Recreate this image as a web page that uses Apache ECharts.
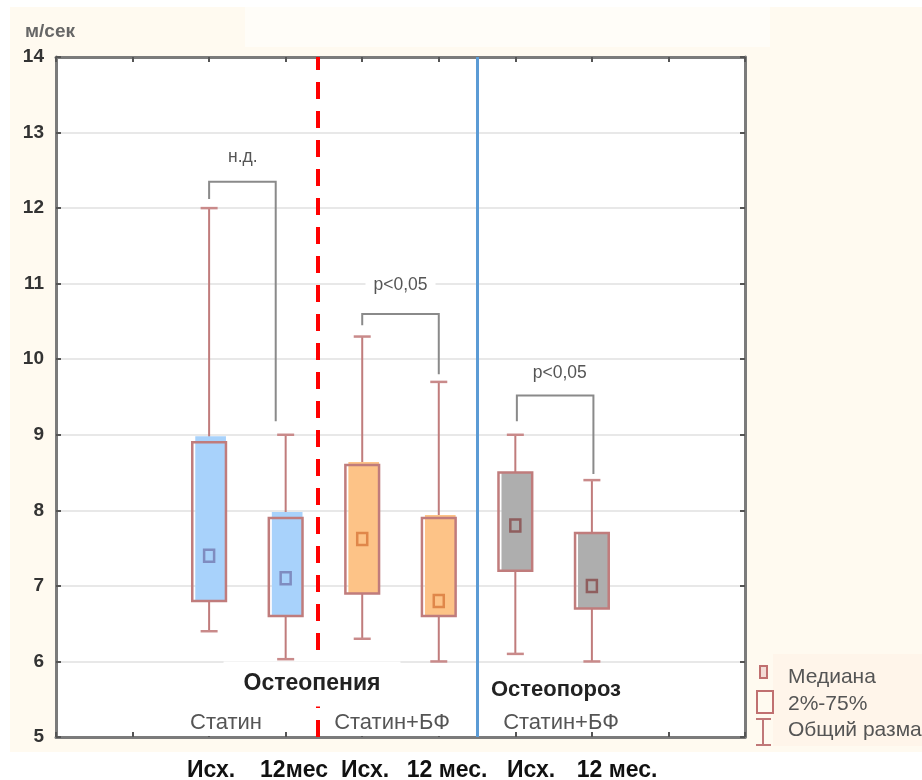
<!DOCTYPE html>
<html><head><meta charset="utf-8">
<script src="https://cdn.jsdelivr.net/npm/echarts@6/dist/echarts.min.js"></script>
<style>
html,body{margin:0;padding:0;background:#fff;}
#wrap{position:relative;width:922px;height:780px;overflow:hidden;}
.bg{position:absolute;}
#c{position:absolute;left:0;top:0;width:922px;height:780px;}
</style>
</head><body>
<div id="wrap">
  <div class="bg" style="left:10px;top:7px;width:912px;height:745px;background:#fffaf0;"></div>
  <div class="bg" style="left:245px;top:7px;width:525px;height:40px;background:#fffdf8;"></div>
  <div class="bg" style="left:773px;top:654px;width:149px;height:92px;background:#fff5ea;"></div>
  <div id="c"></div>
</div>
<script>
// ---- data ----
const timeLabels = ['Исх.', '12мес', 'Исх.', '12 мес.', 'Исх.', '12 мес.'];
const positions  = [2, 3, 4, 5, 6, 7];
const mins    = [6.4, 6.03, 6.3, 6.0, 6.1, 6.0];
const q1s     = [6.8, 6.6, 6.9, 6.6, 7.2, 6.7];
const medians = [7.4, 7.1, 7.62, 6.8, 7.8, 7.0];
const q3s     = [8.9, 7.9, 8.6, 7.9, 8.5, 7.7];
const maxs    = [12.0, 9.0, 10.3, 9.7, 9.0, 8.4];
const groupOf = [0, 0, 1, 1, 2, 2];
const groupNames = ['Статин (остеопения)', 'Статин+БФ (остеопения)', 'Статин+БФ (остеопороз)'];
const treatmentLabels = ['Статин', 'Статин+БФ', 'Статин+БФ'];
const diagnosisLabels = ['Остеопения', 'Остеопороз'];
const separators = [3.42, 5.5];
// brackets: [xLeft, xRight, yTop, yLeftEnd, yRightEnd, labelX, labelY]
const bracketGeo = [
  [2.0, 2.87, 12.35, 12.12, 9.18, 2.44, 12.67],
  [4.0, 5.0, 10.6, 10.45, 9.8, 4.5, 10.98],
  [6.02, 7.02, 9.52, 9.18, 8.48, 6.58, 9.81]
];
const bracketLabels = ['н.д.', 'p<0,05', 'p<0,05'];
const yMin = 5, yMax = 14;
const legendLabels = ['Медиана', '2%-75%', 'Общий размах'];

// ---- styles ----
const fills = ['#a8d2fb', '#fdc387', '#aeaeae'];
const medColors = ['#7f8cc0', '#e0874a', '#8f5e5e'];
const boxStroke = '#c07c7c';
const FONT = '"Liberation Sans", Arial, sans-serif';

function boxRender(k) {
  return function (params, api) {
    const x = api.value(0);
    const pMin = api.coord([x, api.value(1)]);
    const pQ1 = api.coord([x, api.value(2)]);
    const pMed = api.coord([x, api.value(3)]);
    const pQ3 = api.coord([x, api.value(4)]);
    const pMax = api.coord([x, api.value(5)]);
    const bw = api.size([1, 0])[0] * 0.44;
    const cw = 17;
    const cx = pMin[0];
    const ext = k === 0 ? 6 : (k === 1 ? 3 : 0);
    return {
      type: 'group',
      children: [
        { type: 'line', shape: { x1: cx, y1: pMax[1], x2: cx, y2: pQ3[1] }, style: { stroke: boxStroke, lineWidth: 2 } },
        { type: 'line', shape: { x1: cx, y1: pQ1[1], x2: cx, y2: pMin[1] }, style: { stroke: boxStroke, lineWidth: 2 } },
        { type: 'line', shape: { x1: cx - cw / 2, y1: pMax[1], x2: cx + cw / 2, y2: pMax[1] }, style: { stroke: '#c98a8a', lineWidth: 2.5 } },
        { type: 'line', shape: { x1: cx - cw / 2, y1: pMin[1], x2: cx + cw / 2, y2: pMin[1] }, style: { stroke: '#c98a8a', lineWidth: 2.5 } },
        { type: 'rect', shape: { x: cx - bw / 2 + 3, y: pQ3[1] - ext, width: bw - 3, height: pQ1[1] - pQ3[1] + ext }, style: { fill: fills[k] } },
        { type: 'rect', shape: { x: cx - bw / 2, y: pQ3[1], width: bw, height: pQ1[1] - pQ3[1] }, style: { fill: 'none', stroke: boxStroke, lineWidth: 2.5 } },
        { type: 'rect', shape: { x: cx - 5, y: pMed[1] - 6, width: 10, height: 12 }, style: { fill: 'none', stroke: medColors[k], lineWidth: 2.5 } }
      ]
    };
  };
}

const boxSeries = [0, 1, 2].map(function (k) {
  const data = [];
  positions.forEach(function (p, i) {
    if (groupOf[i] === k) data.push([p, mins[i], q1s[i], medians[i], q3s[i], maxs[i]]);
  });
  return {
    name: groupNames[k],
    type: 'custom',
    renderItem: boxRender(k),
    encode: { x: 0, y: [1, 2, 3, 4, 5] },
    data: data,
    z: 5
  };
});

const bracketSeries = {
  name: 'significance',
  type: 'custom',
  data: bracketGeo,
  encode: { x: [0, 1], y: [2, 3, 4] },
  z: 6,
  renderItem: function (params, api) {
    const L = api.coord([api.value(0), api.value(3)]);
    const LT = api.coord([api.value(0), api.value(2)]);
    const RT = api.coord([api.value(1), api.value(2)]);
    const R = api.coord([api.value(1), api.value(4)]);
    const T = api.coord([api.value(5), api.value(6)]);
    return {
      type: 'group',
      children: [
        { type: 'polyline', shape: { points: [L, LT, RT, R] }, style: { stroke: '#8a8a8a', lineWidth: 2, fill: 'none' } },
        { type: 'text', x: T[0], y: T[1], style: {
            text: bracketLabels[params.dataIndex], align: 'center', verticalAlign: 'middle',
            fill: '#555', font: '17.5px ' + FONT, backgroundColor: '#fff', padding: [2, 8, 2, 8] } }
      ]
    };
  }
};

const sepSeries = {
  name: 'separators',
  type: 'line',
  data: [],
  markLine: {
    silent: true, symbol: 'none', label: { show: false },
    data: [
      { xAxis: separators[0], lineStyle: { color: '#ff0000', width: 4, type: [17, 12] } },
      { xAxis: separators[1], lineStyle: { color: '#5b9bd5', width: 3, type: 'solid' } }
    ]
  },
  z: 4
};

const axisLineStyle = { lineStyle: { color: '#7b7b7b', width: 3 } };
const tickStyle = { show: true, inside: true, length: 5, lineStyle: { color: '#555', width: 2 } };

// graphic texts (layout)
const graphics = [];
const timeLabelX = [211, 294, 365, 447, 531, 617];
timeLabels.forEach(function (t, i) {
  graphics.push({ type: 'text', x: timeLabelX[i], y: 771, z: 100,
    style: { text: t, align: 'center', verticalAlign: 'middle', fill: '#111', font: 'bold 23px ' + FONT } });
});
graphics.push({ type: 'text', x: 312, y: 684, z: 100,
  style: { text: diagnosisLabels[0], align: 'center', verticalAlign: 'middle', fill: '#222', font: 'bold 23px ' + FONT,
    backgroundColor: '#fff', padding: [11, 20, 11, 20] } });
graphics.push({ type: 'text', x: 556, y: 690, z: 100,
  style: { text: diagnosisLabels[1], align: 'center', verticalAlign: 'middle', fill: '#222', font: 'bold 22px ' + FONT } });
const treatX = [226, 392, 561];
treatmentLabels.forEach(function (t, i) {
  graphics.push({ type: 'text', x: treatX[i], y: 723, z: 100,
    style: { text: t, align: 'center', verticalAlign: 'middle', fill: '#555', font: '22px ' + FONT,
      backgroundColor: i < 2 ? '#fff' : null, padding: [2, 4, 2, 4] } });
});
// legend
graphics.push({ type: 'rect', z: 100, shape: { x: 760, y: 666, width: 7, height: 12 }, style: { fill: '#f3dcd6', stroke: '#c07070', lineWidth: 2 } });
graphics.push({ type: 'rect', z: 100, shape: { x: 757, y: 691, width: 16, height: 22 }, style: { fill: 'none', stroke: '#c07070', lineWidth: 2 } });
graphics.push({ type: 'line', z: 100, shape: { x1: 763, y1: 719, x2: 763, y2: 745 }, style: { stroke: '#c07878', lineWidth: 2 } });
graphics.push({ type: 'line', z: 100, shape: { x1: 756, y1: 719, x2: 771, y2: 719 }, style: { stroke: '#c07878', lineWidth: 2 } });
graphics.push({ type: 'line', z: 100, shape: { x1: 756, y1: 745, x2: 771, y2: 745 }, style: { stroke: '#c07878', lineWidth: 2 } });
[677, 704, 730].forEach(function (y, i) {
  graphics.push({ type: 'text', x: 788, y: y, z: 100,
    style: { text: legendLabels[i], align: 'left', verticalAlign: 'middle', fill: '#555', font: '21px ' + FONT } });
});

const chart = echarts.init(document.getElementById('c'), null, { renderer: 'canvas' });
chart.setOption({
  backgroundColor: 'transparent',
  animation: false,
  grid: { left: 56, top: 57, right: 177, bottom: 43, show: true, backgroundColor: '#ffffff', borderWidth: 0 },
  xAxis: [
    { type: 'value', min: 0, max: 9, interval: 1, position: 'bottom', axisLine: Object.assign({ show: true, onZero: false }, axisLineStyle),
      axisTick: tickStyle, axisLabel: { show: false }, splitLine: { show: false } },
    { type: 'value', min: 0, max: 9, interval: 1, position: 'top', axisLine: Object.assign({ show: true, onZero: false }, axisLineStyle),
      axisTick: tickStyle, axisLabel: { show: false }, splitLine: { show: false } }
  ],
  yAxis: [
    { type: 'value', min: yMin, max: yMax, interval: 1, position: 'left',
      name: 'м/сек', nameLocation: 'end', nameGap: 16,
      nameTextStyle: { color: '#666', fontSize: 19, fontWeight: 'bold', fontFamily: FONT, align: 'center', padding: [0, 12, 0, 0] },
      axisLine: Object.assign({ show: true, onZero: false }, axisLineStyle), axisTick: tickStyle,
      axisLabel: { color: '#333', fontSize: 19, fontWeight: 'bold', fontFamily: FONT, margin: 12 },
      splitLine: { show: true, lineStyle: { color: '#e8e8e8', width: 2 } } },
    { type: 'value', min: yMin, max: yMax, interval: 1, position: 'right',
      axisLine: Object.assign({ show: true, onZero: false }, axisLineStyle), axisTick: tickStyle,
      axisLabel: { show: false }, splitLine: { show: false } }
  ],
  series: [sepSeries].concat(boxSeries).concat([bracketSeries]),
  graphic: graphics
});
</script>
</body></html>
